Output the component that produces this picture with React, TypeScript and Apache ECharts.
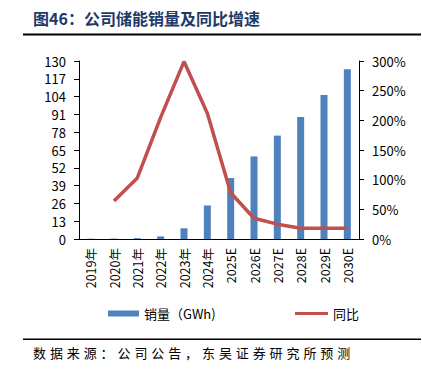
import React, { useEffect, useRef } from "react";
import * as echarts from "echarts";

const categories = ["2019年", "2020年", "2021年", "2022年", "2023年", "2024年", "2025E", "2026E", "2027E", "2028E", "2029E", "2030E"];
const salesGWh = [0.2, 0.3, 0.6, 1.9, 7.8, 24.5, 44.5, 60.3, 75.5, 89.1, 105.1, 124.0];
const yoyPct = [null, 64, 103, 205, 299, 212, 78, 35, 25, 18, 18, 18];
const leftTicks = { min: 0, max: 130, interval: 13 };
const rightTicks = { min: 0, max: 300, interval: 50 };
const titleText = "图46：公司储能销量及同比增速";
const sourceText = "数据来源：公司公告，东吴证券研究所预测";
const barName = "销量（GWh)";
const lineName = "同比";

const FONT = "'Noto Sans CJK SC', 'Noto Sans', sans-serif";

export default function App() {
  const ref = useRef<HTMLDivElement>(null);
  useEffect(() => {
    if (!ref.current) return;
    const chart = echarts.init(ref.current, null, { renderer: "svg" });
    const sourceChars = Array.from(sourceText).map((ch, i) => ({
      type: "text",
      left: 33 + i * 16.9,
      top: 346,
      style: { text: ch, font: `13px ${FONT}`, fill: "#000" },
    }));
    chart.setOption({
      animation: false,
      backgroundColor: "#fff",
      textStyle: { fontFamily: FONT },
      graphic: [
        {
          type: "text",
          left: 33,
          top: 10,
          style: { text: titleText, font: `bold 16px ${FONT}`, fill: "#1F3A68" },
        },
        { type: "rect", shape: { x: 23, y: 33.5, width: 398, height: 2 }, style: { fill: "#000" } },
        { type: "rect", shape: { x: 23, y: 338.5, width: 398, height: 1.5 }, style: { fill: "#000" } },
        ...sourceChars,
      ],
      grid: { left: 79, right: 63, top: 61, bottom: 141, containLabel: false },
      legend: [
        {
          data: [{ name: barName, icon: "rect" }],
          left: 103,
          top: 302,
          itemWidth: 31,
          itemHeight: 6,
          itemGap: 4,
          textStyle: { fontSize: 13, color: "#000", fontFamily: FONT },
        },
        {
          data: [{ name: lineName, icon: "rect" }],
          left: 290,
          top: 302,
          itemWidth: 33,
          itemHeight: 3,
          textStyle: { fontSize: 13, color: "#000", fontFamily: FONT },
        },
      ],
      xAxis: {
        type: "category",
        data: categories,
        axisLine: { lineStyle: { color: "#000", width: 1 } },
        axisTick: { show: false },
        axisLabel: { rotate: 90, fontSize: 12.5, color: "#000", margin: 9, interval: 0 },
      },
      yAxis: [
        {
          type: "value",
          ...leftTicks,
          splitLine: { show: false },
          axisLine: { show: true, lineStyle: { color: "#000" } },
          axisTick: { show: true, length: 5, lineStyle: { color: "#000" } },
          axisLabel: { fontSize: 13, color: "#000", margin: 13 },
        },
        {
          type: "value",
          ...rightTicks,
          splitLine: { show: false },
          axisLine: { show: true, lineStyle: { color: "#000" } },
          axisTick: { show: true, length: 5, lineStyle: { color: "#000" } },
          axisLabel: { fontSize: 13, color: "#000", margin: 13, formatter: "{value}%" },
        },
      ],
      series: [
        {
          name: barName,
          type: "bar",
          data: salesGWh,
          barWidth: 7,
          itemStyle: { color: "#4F81BD" },
          yAxisIndex: 0,
        },
        {
          name: lineName,
          type: "line",
          data: yoyPct,
          yAxisIndex: 1,
          symbol: "none",
          lineStyle: { color: "#C0504D", width: 3.5 },
          itemStyle: { color: "#C0504D" },
        },
      ],
    });
    return () => chart.dispose();
  }, []);
  return <div ref={ref} style={{ position: "fixed", left: 0, top: 0, width: 422, height: 380 }} />;
}
